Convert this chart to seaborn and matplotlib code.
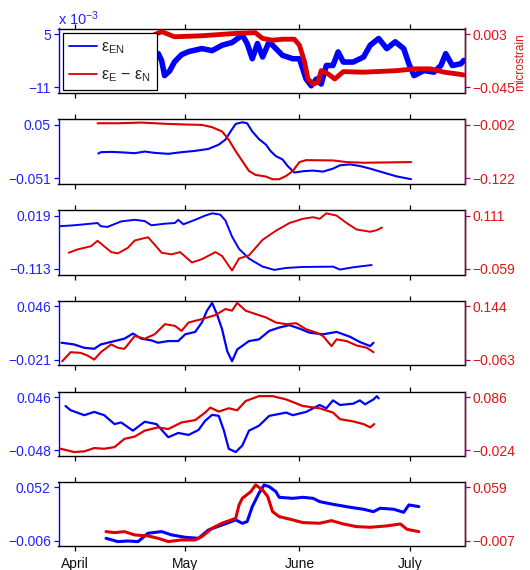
import numpy as np
import pandas as pd
import matplotlib
matplotlib.use('Agg')
import matplotlib.pyplot as plt
import seaborn as sns

sns.set_theme(style='white')
plt.rcParams['font.family'] = ['Liberation Sans', 'DejaVu Sans']
plt.rcParams['mathtext.fontset'] = 'custom'
plt.rcParams['mathtext.rm'] = 'Liberation Sans'
plt.rcParams['mathtext.it'] = 'Liberation Sans'
plt.rcParams['axes.unicode_minus'] = True

# ---------------- data (x in days after 1 April) ----------------
p1_blue_day = [21.4, 22.7, 23.6, 24.4, 25.8, 27.1, 29.0, 30.9, 34.5, 37.3, 40.0, 42.7, 45.5, 46.8, 48.2,
               49.6, 51.0, 52.8, 53.7, 56.4, 59.2, 61.0, 62.8, 64.2, 65.6, 66.9, 68.3, 70.1, 71.5, 72.9,
               75.6, 78.4, 80.2, 82.5, 84.7, 87.0, 89.3, 90.7, 92.1, 94.8, 97.5, 99.4, 100.7, 102.5,
               104.8, 105.6]
p1_blue_val = [-2.9, -0.87, -3.0, -7.46, -6.0, -3.3, -1.17, -0.26, 0.65, 0.04, 1.66, 2.48, 4.7, 2.17, -2.39,
               2.17, -1.87, 2.78, 1.66, -1.38, -2.39, -2.39, -8.47, -10.5, -8.47, -9.99, -4.42, -4.42, -0.35,
               -3.39, -3.39, -1.87, 1.66, 3.69, 0.65, 2.69, 0.65, -3.91, -7.46, -5.94, -6.43, -4.42, -0.87,
               -4.42, -3.91, -2.9]
p1_blue_val = [v * 1e-3 for v in p1_blue_val]
p1_red_day = [21.4, 23.6, 27.1, 34.5, 43.6, 49.0, 51.0, 53.7, 56.4, 59.6, 61.0, 62.4, 63.3, 64.7, 66.0,
              66.9, 68.8, 70.6, 72.9, 78.4, 87.5, 92.1, 96.6, 100.3, 103.9, 105.6]
p1_red_val = [0.0021, 0.0052, 0.0006, 0.0015, 0.0036, 0.0043, -0.0009, -0.0025, -0.0016, -0.0016, -0.007,
              -0.0222, -0.0374, -0.042, -0.0405, -0.0299, -0.0329, -0.0374, -0.0308, -0.0313, -0.0299,
              -0.0283, -0.0283, -0.0313, -0.0329, -0.0338]

p2_blue_day = [6.4, 7.1, 9.9, 13.5, 16.3, 19.0, 21.7, 25.4, 29.0, 32.7, 36.3, 39.1, 40.9, 42.3, 43.7, 45.5,
               46.8, 48.2, 50.0, 51.9, 53.2, 54.6, 56.4, 57.8, 59.6, 61.9, 64.7, 67.4, 70.1, 72.0, 74.7,
               77.4, 80.2, 83.8, 87.5, 91.3]
p2_blue_val = [-0.0042, -0.0017, -0.0011, -0.0023, -0.0036, -0.0005, -0.0030, -0.0048, -0.0017, 0.0008,
               0.0045, 0.0126, 0.0220, 0.0375, 0.0519, 0.0550, 0.0531, 0.0375, 0.0232, 0.0126, 0.0002,
               -0.0092, -0.0154, -0.0279, -0.0403, -0.0378, -0.0366, -0.0385, -0.0329, -0.0266, -0.0248,
               -0.0279, -0.0329, -0.0403, -0.0478, -0.0528]
p2_red_day = [6.2, 11.7, 18.1, 25.4, 30.9, 34.5, 37.3, 40.0, 41.8, 43.7, 45.5, 47.3, 49.1, 51.9, 53.7,
              55.5, 57.4, 59.2, 61.0, 62.8, 70.1, 73.8, 78.4, 84.7, 91.3]
p2_red_val = [0.0017, 0.0017, 0.0032, 0.0002, -0.0013, -0.0020, -0.0072, -0.0168, -0.0353, -0.0613,
              -0.0835, -0.1057, -0.1146, -0.1183, -0.1243, -0.1243, -0.1169, -0.1057, -0.0857, -0.0813,
              -0.0820, -0.0857, -0.0872, -0.0865, -0.0857]

p3_blue_day = [-4.3, -0.2, 3.5, 6.2, 7.1, 8.9, 12.6, 16.3, 19.0, 20.8, 24.5, 27.2, 28.1, 29.5, 32.7, 35.4,
               37.3, 39.5, 40.9, 42.7, 44.6, 47.3, 51.0, 54.2, 57.4, 61.9, 70.1, 72.0, 75.6, 80.6]
p3_blue_val = [-0.0074, -0.0050, -0.0018, 0.0006, -0.0074, -0.0090, 0.0046, 0.0086, 0.0054, -0.0050,
               -0.0010, 0.0006, 0.0086, -0.0026, 0.0086, 0.0190, 0.0246, 0.0214, 0.0070, -0.0330, -0.0634,
               -0.0874, -0.1074, -0.1154, -0.1106, -0.1082, -0.1074, -0.1146, -0.1090, -0.1034]
p3_red_day = [-1.6, 0.7, 4.4, 6.2, 8.0, 9.9, 11.7, 14.4, 16.3, 19.9, 21.7, 23.6, 26.3, 28.6, 31.8, 34.5,
              38.2, 40.0, 42.7, 44.6, 47.3, 51.0, 54.6, 58.3, 61.9, 64.7, 66.5, 68.3, 71.1, 73.8, 76.5,
              80.2, 82.0, 83.4]
p3_red_val = [-0.0075, 0.0029, 0.0132, 0.0307, 0.0132, -0.0054, -0.0095, 0.0080, 0.0317, 0.0420, 0.0183,
              -0.0075, -0.0126, -0.0054, -0.0384, -0.0281, -0.0054, -0.0178, -0.0640, -0.0260, -0.0157,
              0.0338, 0.0626, 0.0873, 0.1007, 0.1059, 0.1007, 0.1182, 0.1110, 0.0873, 0.0667, 0.0595,
              0.0646, 0.0729]

p4_blue_day = [-3.6, -0.2, 2.6, 5.3, 7.1, 10.8, 13.5, 15.8, 18.1, 20.8, 22.6, 25.4, 28.1, 30.0, 32.7,
               34.5, 35.9, 37.3, 38.6, 40.0, 41.4, 42.7, 44.1, 47.3, 50.0, 52.8, 55.5, 58.3, 61.0, 63.7,
               67.4, 71.1, 74.7, 77.4, 80.2, 81.1]
p4_blue_val = [0.0002, -0.0019, -0.0062, -0.0074, -0.0019, 0.0023, 0.0053, 0.0117, 0.0053, 0.0032,
               0.0002, 0.0023, 0.0023, 0.0108, 0.0138, 0.0256, 0.0405, 0.0502, 0.0362, 0.0172, -0.0104,
               -0.0231, -0.0083, 0.0023, 0.0044, 0.0151, 0.0193, 0.0223, 0.0180, 0.0129, 0.0108, 0.0138,
               0.0078, 0.0011, -0.0040, 0.0002]
p4_red_day = [-3.4, -1.1, 1.6, 3.5, 5.3, 7.1, 9.9, 11.7, 13.5, 16.3, 19.0, 21.7, 24.5, 27.2, 29.0, 30.9,
              34.5, 38.2, 40.9, 42.7, 44.1, 46.4, 49.1, 51.9, 54.6, 57.4, 60.1, 62.8, 65.6, 67.4, 69.7,
              71.1, 73.8, 76.5, 79.3, 81.1]
p4_red_val = [-0.0695, -0.0342, -0.0368, -0.0473, -0.0630, -0.0342, -0.0040, -0.0171, -0.0211, 0.0287,
              0.0182, 0.0353, 0.0746, 0.0680, 0.0484, 0.0811, 0.0942, 0.1099, 0.1335, 0.1270, 0.1571,
              0.1270, 0.1139, 0.1008, 0.0811, 0.0746, 0.0785, 0.0549, 0.0418, 0.0287, -0.0106, 0.0156,
              0.0090, -0.0080, -0.0171, -0.0342]

p5_blue_day = [-2.5, -1.1, 2.6, 5.3, 8.0, 10.8, 12.6, 15.8, 19.0, 22.2, 25.4, 28.1, 30.9, 33.6, 35.4,
               37.3, 39.1, 40.5, 41.8, 43.7, 45.5, 47.3, 50.0, 52.8, 57.4, 59.2, 62.8, 66.5, 68.3, 70.1,
               72.0, 75.6, 77.4, 78.8, 81.1, 82.0, 82.5]
p5_blue_val = [0.0303, 0.0228, 0.0141, 0.0199, 0.0141, -0.0016, 0.0013, -0.0132, 0.0025, -0.0016,
               -0.0248, -0.0172, -0.0207, -0.0120, 0.0042, 0.0147, 0.0129, -0.0132, -0.0451, -0.0509,
               -0.0393, -0.0132, -0.0045, 0.0129, 0.0187, 0.0141, 0.0199, 0.0321, 0.0263, 0.0402, 0.0321,
               0.0344, 0.0402, 0.0332, 0.0419, 0.0477, 0.0437]
p5_red_day = [-3.8, -0.2, 2.6, 5.3, 8.0, 10.8, 13.5, 16.3, 19.0, 22.6, 25.4, 29.0, 32.7, 35.4, 36.8,
              39.1, 41.8, 44.1, 46.4, 50.0, 53.7, 57.4, 61.9, 66.5, 70.1, 72.0, 75.6, 78.4, 80.2, 81.3]
p5_red_val = [-0.0206, -0.0274, -0.0260, -0.0192, -0.0206, -0.0172, -0.0002, 0.0045, 0.0167, 0.0235,
              0.0201, 0.0337, 0.0385, 0.0541, 0.0643, 0.0561, 0.0629, 0.0588, 0.0779, 0.0880, 0.0880,
              0.0812, 0.0677, 0.0629, 0.0541, 0.0405, 0.0358, 0.0303, 0.0235, 0.0303]

p6_blue_day = [8.5, 11.7, 14.4, 17.2, 19.9, 23.6, 26.3, 30.0, 33.6, 36.3, 40.0, 43.7, 45.5, 46.8, 48.2,
               50.0, 51.4, 52.8, 54.6, 55.5, 59.2, 61.9, 64.7, 66.5, 70.1, 74.7, 78.4, 81.1, 82.9, 86.6,
               89.3, 90.7, 93.4]
p6_blue_val = [-0.0035, -0.0071, -0.0064, -0.0071, 0.0020, 0.0038, 0.0002, -0.0024, -0.0035, 0.0056,
               0.0110, 0.0165, 0.0128, 0.0147, 0.0310, 0.0455, 0.0545, 0.0527, 0.0473, 0.0411, 0.0400,
               0.0411, 0.0400, 0.0364, 0.0335, 0.0303, 0.0281, 0.0255, 0.0292, 0.0281, 0.0248, 0.0328,
               0.0310]
p6_red_day = [8.5, 10.8, 13.5, 16.3, 19.9, 22.6, 25.4, 29.0, 32.7, 34.5, 37.3, 40.0, 43.7, 44.6, 45.5,
              47.8, 49.1, 51.0, 52.4, 53.7, 55.5, 59.2, 61.9, 66.5, 69.7, 72.9, 76.5, 80.2, 84.7, 88.4,
              90.2, 93.4]
p6_red_val = [0.0041, 0.0029, 0.0041, 0.0000, -0.0012, -0.0041, -0.0082, -0.0062, -0.0062, -0.0021,
              0.0083, 0.0145, 0.0206, 0.0371, 0.0454, 0.0536, 0.0619, 0.0557, 0.0475, 0.0289, 0.0227,
              0.0186, 0.0153, 0.0145, 0.0177, 0.0136, 0.0103, 0.0095, 0.0112, 0.0136, 0.0070, 0.0041]

left_ticks = [(-0.011, 0.005), (-0.051, 0.05), (-0.113, 0.019), (-0.021, 0.046), (-0.048, 0.046),
              (-0.006, 0.052)]
left_labels = [('\u221211', '5'), ('\u22120.051', '0.05'), ('\u22120.113', '0.019'),
               ('\u22120.021', '0.046'), ('\u22120.048', '0.046'), ('\u22120.006', '0.052')]
right_ticks = [(-0.045, 0.003), (-0.122, -0.002), (-0.059, 0.111), (-0.063, 0.144), (-0.024, 0.086),
               (-0.007, 0.059)]
right_labels = [('\u22120.045', '0.003'), ('\u22120.122', '\u22120.002'), ('\u22120.059', '0.111'),
                ('\u22120.063', '0.144'), ('\u22120.024', '0.086'), ('\u22120.007', '0.059')]
month_days = [0, 30, 61, 91]
month_labels = ['April', 'May', 'June', 'July']
legend_labels = ['\u03b5$_{\\mathrm{EN}}$', '\u03b5$_{\\mathrm{E}}$ \u2212 \u03b5$_{\\mathrm{N}}$']

blue_data = [(p1_blue_day, p1_blue_val), (p2_blue_day, p2_blue_val), (p3_blue_day, p3_blue_val),
             (p4_blue_day, p4_blue_val), (p5_blue_day, p5_blue_val), (p6_blue_day, p6_blue_val)]
red_data = [(p1_red_day, p1_red_val), (p2_red_day, p2_red_val), (p3_red_day, p3_red_val),
            (p4_red_day, p4_red_val), (p5_red_day, p5_red_val), (p6_red_day, p6_red_val)]

# ---------------- style ----------------
BLUE = '#0000ff'
RED = '#dd0000'
BLUE_TXT = '#2222ff'
RED_TXT = '#e01515'
RIGHT_SPINE = '#990055'
day0 = pd.Timestamp('2013-04-01')


def to_dates(days):
    return day0 + pd.to_timedelta(np.asarray(days, dtype=float), unit='D')


W, H = 530, 570
fig = plt.figure(figsize=(W / 100, H / 100), dpi=100)
tops = [28.5, 119.3, 210.0, 300.7, 391.5, 481.7]
ax_h = 64.5
x_left, x_right = 58.5, 464.5
lw_blue = [4.0, 1.5, 1.4, 1.6, 1.6, 2.2]
lw_red = [3.5, 1.5, 1.4, 1.5, 1.6, 2.2]
xlim = (to_dates([-4.4])[0], to_dates([105.8])[0])
tick_dates = to_dates(month_days)

for i in range(6):
    ax = fig.add_axes([x_left / W, 1 - (tops[i] + ax_h) / H, (x_right - x_left) / W, ax_h / H])
    ax2 = ax.twinx()
    bd, bv = blue_data[i]
    rd, rv = red_data[i]
    sns.lineplot(x=to_dates(bd), y=bv, ax=ax, color=BLUE, lw=lw_blue[i], estimator=None, sort=False)
    sns.lineplot(x=to_dates(rd), y=rv, ax=ax2, color=RED, lw=lw_red[i], estimator=None, sort=False)

    for a, (lo, hi) in ((ax, left_ticks[i]), (ax2, right_ticks[i])):
        r = hi - lo
        a.set_ylim(lo - 0.105 * r, hi + 0.105 * r)
        a.set_yticks([lo, hi])
        a.set_ylabel('')
        a.set_xlabel('')
    ax.set_yticklabels(left_labels[i])
    ax2.set_yticklabels(right_labels[i])
    ax.set_xlim(xlim)
    ax.set_xticks(tick_dates)
    ax.set_xticklabels(month_labels if i == 5 else [''] * 4)

    for s in ['top', 'bottom', 'right']:
        ax.spines[s].set_color('black')
        ax.spines[s].set_linewidth(1.0)
    ax.spines['left'].set_color(BLUE)
    ax.spines['left'].set_linewidth(1.0)
    for s in ['top', 'bottom', 'left']:
        ax2.spines[s].set_visible(False)
    ax2.spines['right'].set_color(RIGHT_SPINE)
    ax2.spines['right'].set_linewidth(1.0)

    ax.tick_params(axis='x', direction='out', length=3.5, width=0.9, color='black', top=True,
                   bottom=True, labelsize=10, labelcolor='#111111', pad=4)
    ax.tick_params(axis='y', direction='out', length=3.5, width=0.9, color=BLUE, labelcolor=BLUE_TXT,
                   labelsize=10, pad=2, left=True)
    ax2.tick_params(axis='y', direction='out', length=3.5, width=0.9, color=RIGHT_SPINE,
                    labelcolor=RED_TXT, labelsize=10, pad=2, right=True)
    ax2.tick_params(axis='x', top=False, bottom=False, labelbottom=False)
    ax.patch.set_visible(True)
    ax2.patch.set_visible(False)

    if i == 0:
        handles = [plt.Line2D([], [], color=BLUE, lw=1.3), plt.Line2D([], [], color=RED, lw=1.3)]
        leg = ax2.legend(handles, legend_labels, loc='upper left', bbox_to_anchor=(0.011, 0.93),
                         borderaxespad=0, fontsize=11.5, frameon=True, fancybox=False,
                         handlelength=1.75, handletextpad=0.2, labelspacing=0.7, borderpad=0.4)
        leg.get_frame().set_edgecolor('black')
        leg.get_frame().set_linewidth(0.9)
        leg.get_frame().set_alpha(1)

fig.text(58 / W, 1 - 25 / H, 'x 10$^{\\mathrm{\u22123}}$', color=BLUE_TXT, fontsize=10.5,
         ha='left', va='baseline')
fig.text(520 / W, 1 - 62 / H, 'microstrain', color=RED_TXT, fontsize=8.5, rotation=90,
         ha='center', va='center')

fig.savefig('out.png', dpi=100)
